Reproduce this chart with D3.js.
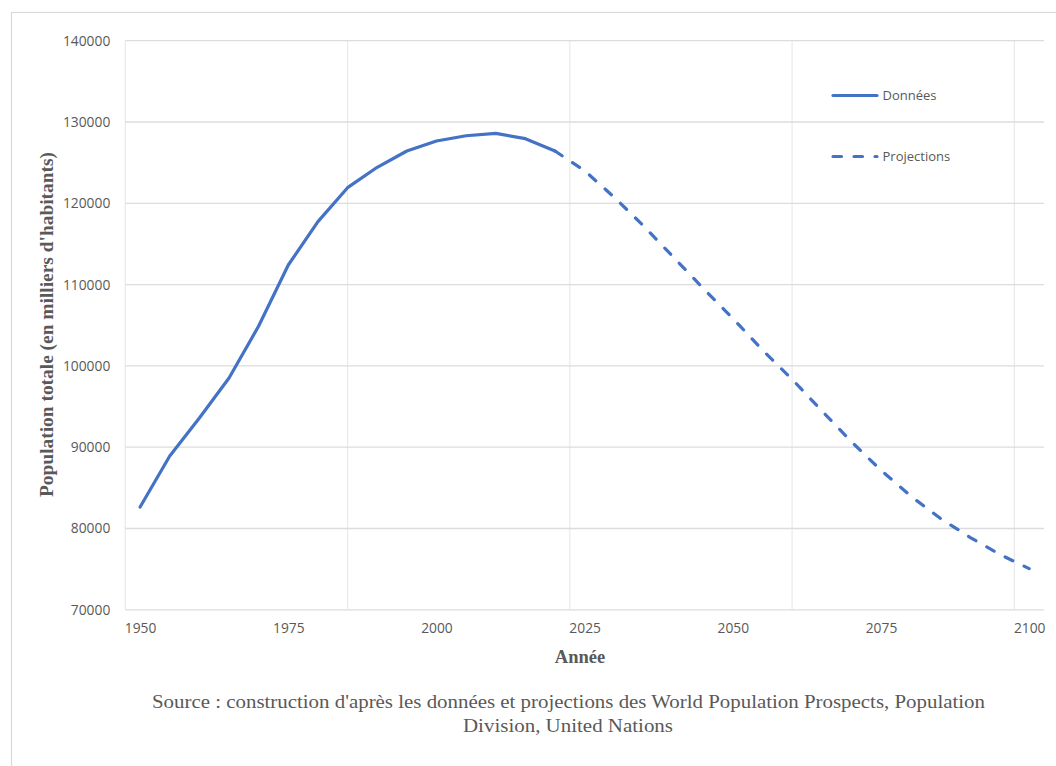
<!DOCTYPE html>
<html>
<head>
<meta charset="utf-8">
<script src="https://cdn.jsdelivr.net/npm/d3@7"></script>
<style>
  html, body { margin: 0; padding: 0; background: #ffffff; }
  svg { display: block; }
</style>
</head>
<body>
<svg id="chart" width="1056" height="766"></svg>
<script>
// ---- data ----
const donneesYears = [1950, 1955, 1960, 1965, 1970, 1975, 1980, 1985, 1990, 1995, 2000, 2005, 2010, 2015, 2020];
const donneesValues = [82640, 88920, 93590, 98510, 104910, 112410, 117740, 121920, 124430, 126430, 127660, 128310, 128610, 127950, 126430];
const projectionYears = [2020, 2025, 2030, 2035, 2040, 2045, 2050, 2055, 2060, 2065, 2070, 2075, 2080, 2085, 2090, 2095, 2100];
const projectionValues = [126430, 124000, 120740, 117170, 113360, 109540, 105850, 101960, 98350, 94490, 90680, 87160, 84000, 81250, 78920, 76830, 75060];
const xTickLabels = [1950, 1975, 2000, 2025, 2050, 2075, 2100];
const xGridYears = [1947.5, 1985, 2022.5, 2060, 2097.5];
const yTickValues = [70000, 80000, 90000, 100000, 110000, 120000, 130000, 140000];
const seriesNames = ["Données", "Projections"];
const yTitle = "Population totale (en milliers d'habitants)";
const xTitle = "Année";
const sourceLines = ["Source : construction d'après les données et projections des World Population Prospects, Population", "Division, United Nations"];

// ---- layout ----
const svg = d3.select("#chart");
const plot = { left: 125.3, right: 1044, top: 40.7, bottom: 609.8 };
const color = "#4472C4";
const gray = "#595959";

const x = d3.scaleLinear().domain([1947.5, 2102.5]).range([plot.left, plot.right]);
const y = d3.scaleLinear().domain([70000, 140000]).range([plot.bottom, plot.top]);

// outer border
svg.append("rect")
  .attr("x", 11.5).attr("y", 12.5).attr("width", 1200).attr("height", 900)
  .attr("fill", "none").attr("stroke", "#d9d9d9").attr("stroke-width", 1.2);

// vertical grid
svg.append("g").selectAll("line").data(xGridYears).join("line")
  .attr("x1", d => x(d)).attr("x2", d => x(d))
  .attr("y1", plot.top).attr("y2", plot.bottom)
  .attr("stroke", "#e9e9e9").attr("stroke-width", 1.2);

// horizontal grid
svg.append("g").selectAll("line").data(yTickValues).join("line")
  .attr("x1", plot.left).attr("x2", plot.right)
  .attr("y1", d => y(d)).attr("y2", d => y(d))
  .attr("stroke", "#dcdcdc").attr("stroke-width", 1.3);

// y axis labels
const yAxis = d3.axisLeft(y).tickValues(yTickValues).tickSize(0).tickPadding(0).tickFormat(d3.format("d"));
const gy = svg.append("g").attr("transform", `translate(${plot.left - 15},0)`).call(yAxis);
gy.select(".domain").remove();
gy.selectAll("text").attr("font-family", "'Open Sans', sans-serif").attr("font-size", 13.8).attr("fill", gray);

// x axis labels
const xAxis = d3.axisBottom(x).tickValues(xTickLabels).tickSize(0).tickPadding(0).tickFormat(d3.format("d"));
const gx = svg.append("g").attr("transform", `translate(0,${plot.bottom + 13})`).call(xAxis);
gx.select(".domain").remove();
gx.selectAll("text").attr("font-family", "'Open Sans', sans-serif").attr("font-size", 13.8).attr("fill", gray);

// lines
const line = d3.line().x(d => x(d[0])).y(d => y(d[1]));
const donnees = donneesYears.map((yr, i) => [yr, donneesValues[i]]);
const proj = projectionYears.map((yr, i) => [yr, projectionValues[i]]);

svg.append("path").datum(proj)
  .attr("d", line).attr("fill", "none").attr("stroke", color)
  .attr("stroke-width", 3.2).attr("stroke-linecap", "round").attr("stroke-linejoin", "round")
  .attr("stroke-dasharray", "8.5,12.5");

svg.append("path").datum(donnees)
  .attr("d", line).attr("fill", "none").attr("stroke", color)
  .attr("stroke-width", 3.2).attr("stroke-linecap", "round").attr("stroke-linejoin", "round");

// legend
const legend = svg.append("g");
const legendItems = [
  { name: seriesNames[0], y: 95.5, dash: null },
  { name: seriesNames[1], y: 156.5, dash: "8.5,12.5" }
];
legendItems.forEach(it => {
  const l = legend.append("line")
    .attr("x1", 833).attr("x2", 877).attr("y1", it.y).attr("y2", it.y)
    .attr("stroke", color).attr("stroke-width", 3.2).attr("stroke-linecap", "round");
  if (it.dash) l.attr("stroke-dasharray", it.dash);
  legend.append("text")
    .attr("x", 882.5).attr("y", it.y).attr("dy", "0.35em")
    .attr("font-family", "'Open Sans', sans-serif").attr("font-size", 13).attr("fill", gray)
    .text(it.name);
});

// axis titles
svg.append("text")
  .attr("transform", `translate(53,${(152 + 497) / 2}) rotate(-90)`)
  .attr("text-anchor", "middle")
  .attr("font-family", "'Liberation Serif', 'Times New Roman', serif")
  .attr("font-weight", "bold").attr("font-size", 18.5).attr("fill", gray)
  .attr("textLength", 345).attr("lengthAdjust", "spacingAndGlyphs")
  .text(yTitle);

svg.append("text")
  .attr("x", 580).attr("y", 663)
  .attr("text-anchor", "middle")
  .attr("font-family", "'Liberation Serif', 'Times New Roman', serif")
  .attr("font-weight", "bold").attr("font-size", 18.5).attr("fill", gray)
  .text(xTitle);

// source
svg.append("text")
  .attr("x", 568.5).attr("y", 707.5).attr("text-anchor", "middle")
  .attr("font-family", "'Liberation Serif', 'Times New Roman', serif")
  .attr("font-size", 19).attr("fill", gray)
  .attr("textLength", 833).attr("lengthAdjust", "spacingAndGlyphs")
  .text(sourceLines[0]);
svg.append("text")
  .attr("x", 568).attr("y", 731.5).attr("text-anchor", "middle")
  .attr("font-family", "'Liberation Serif', 'Times New Roman', serif")
  .attr("font-size", 19).attr("fill", gray)
  .attr("textLength", 210).attr("lengthAdjust", "spacingAndGlyphs")
  .text(sourceLines[1]);
</script>
</body>
</html>
